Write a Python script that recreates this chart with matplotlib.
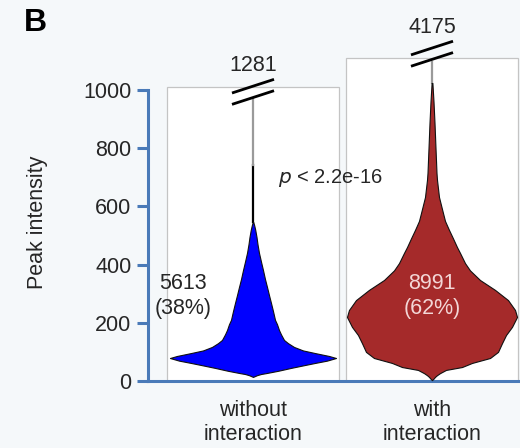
import matplotlib
matplotlib.use("Agg")
import matplotlib.pyplot as plt
import numpy as np

plt.rcParams["font.family"] = ["Liberation Sans", "DejaVu Sans"]

# Group labels and counts
groups   = ["without\ninteraction", "with\ninteraction"]
counts   = [5613, 8991]
percents = [38, 62]
max_vals = [1281, 4175]
p_text   = "< 2.2e-16"

# Violin outlines: peak intensity vs. relative density (half-width)
without_vals = [14, 17, 20, 24, 27, 35, 45, 55, 62, 70, 79, 86, 96, 105,
                117, 130, 141, 160, 175, 195, 210, 240, 268, 295, 323, 350,
                381, 410, 440, 470, 495, 520, 535, 546]
without_dens = [0, 2, 4, 8, 13, 25, 38, 52, 62, 74, 83, 76, 62, 50,
                41, 35, 31, 28, 26, 24, 22, 20, 18, 16, 14, 12,
                10, 8, 6, 4.5, 3.5, 2.2, 1.2, 0.3]
with_vals = [3, 8, 14, 20, 27, 38, 48, 62, 79, 100, 130, 158, 186, 220, 244,
             278, 313, 347, 380, 405, 440, 460, 490, 519, 550, 577, 632, 691,
             715, 800, 887, 960, 1024]
with_dens = [0, 1.5, 3, 5, 8, 14, 30, 40, 58, 66, 70, 74, 80, 85, 83,
             76, 63, 48, 38, 33, 28, 25, 21, 17, 13, 11, 7, 5,
             4.5, 3.5, 2.5, 1.5, 0.4]

# Upper tails: black line then grey line up to the axis break
tail_black = [(546, 742), None]
tail_grey  = [(742, 969), (1024, 1096)]
panel_tops = [1010, 1110]
break_vals = [974, 1105]

BLUE    = "#4a7ab8"
COLORS  = ["#0000ff", "#a52a2a"]
TXT     = "#262626"
FS      = 15.5

fig = plt.figure(figsize=(5.2, 4.48), dpi=100)
fig.patch.set_facecolor("#f5f8fa")
ax = fig.add_axes([148 / 520, 67 / 448, 372 / 520, 366.7 / 448])
ax.patch.set_visible(False)

pos = [1, 2]
max_half = 0.475
dmax = max(max(without_dens), max(with_dens))

# white panels behind each violin
for p, top in zip(pos, panel_tops):
    ax.add_patch(plt.Rectangle((p - 0.483, 0), 0.966, top, facecolor="white",
                               edgecolor="#c4c4c4", lw=0.9, zorder=0))

for i, (vals, dens) in enumerate([(without_vals, without_dens),
                                  (with_vals, with_dens)]):
    v = np.asarray(vals, float)
    w = np.asarray(dens, float) / dmax * max_half
    ax.fill_betweenx(v, pos[i] - w, pos[i] + w, facecolor=COLORS[i],
                     edgecolor="#111111", lw=0.8, zorder=3)
    if tail_black[i]:
        ax.plot([pos[i], pos[i]], tail_black[i], color="black", lw=1.6,
                zorder=2)
    ax.plot([pos[i], pos[i]], tail_grey[i], color="#9a9a9a", lw=1.6, zorder=2)

    # axis break marks with the true maximum above them
    for off in (0, 39):
        b = break_vals[i] + off
        ax.plot([pos[i] - 0.11, pos[i] + 0.11], [b - 22, b + 22],
                color="black", lw=2.0, zorder=4, clip_on=False)
    ax.text(pos[i], break_vals[i] + 111, str(max_vals[i]), ha="center",
            va="center", fontsize=FS, color=TXT)

ax.text(0.609, 292, f"{counts[0]}\n({percents[0]}%)", ha="center",
        va="center", fontsize=FS, color=TXT, zorder=5)
ax.text(2.0, 292, f"{counts[1]}\n({percents[1]}%)", ha="center",
        va="center", fontsize=FS, color="#f3d6d6", zorder=5)
ax.text(1.14, 698, r"$p$ " + p_text, ha="left", va="center", fontsize=14.5,
        color=TXT, zorder=5)

ax.set_xlim(1 - 105 / 179, 2 + 88 / 179)
ax.set_ylim(0, 1260)
ax.set_yticks(range(0, 1001, 200))
ax.set_xticks(pos)
ax.set_xticklabels(groups, fontsize=FS, color=TXT, linespacing=1.15)
ax.tick_params(axis="x", length=0, pad=14)
ax.tick_params(axis="y", length=8, width=2.2, color=BLUE, labelsize=FS,
               labelcolor=TXT, pad=4)

for s in ("top", "right"):
    ax.spines[s].set_visible(False)
ax.spines["left"].set_bounds(0, 1000)
for s in ("left", "bottom"):
    ax.spines[s].set_color(BLUE)
    ax.spines[s].set_linewidth(2.2)

ax.set_ylabel("Peak intensity", fontsize=FS, color=TXT)
ax.yaxis.set_label_coords(-0.27, 0.434)
fig.text(24 / 520, 1 - 23 / 448, "B", fontsize=23, fontweight="bold",
         va="center", ha="left", color="black")

fig.savefig("out.png", dpi=100, facecolor=fig.get_facecolor())
